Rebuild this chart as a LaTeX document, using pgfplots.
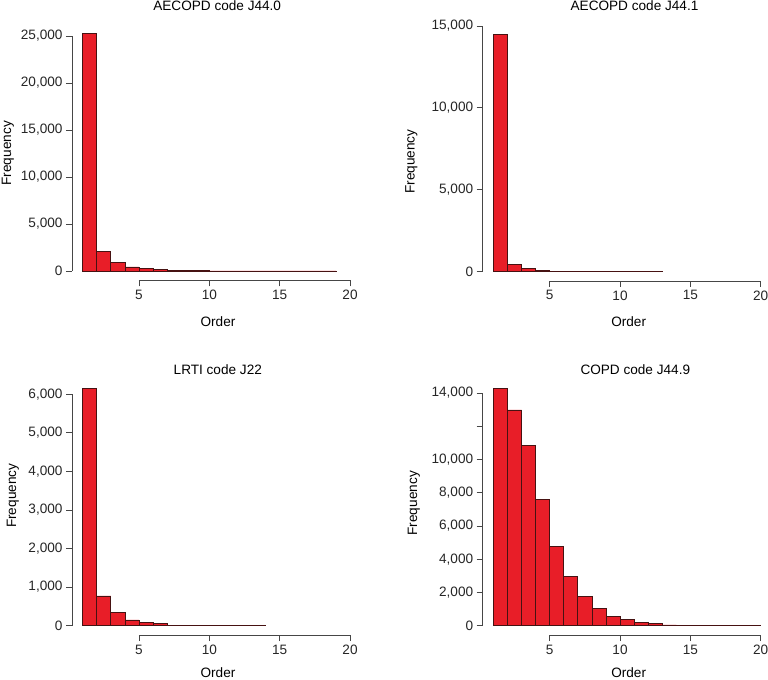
\documentclass[border=0pt]{standalone}
\usepackage{pgfplots}
\pgfplotsset{compat=1.18}
\usepackage{fontspec}
\setmainfont{Liberation Sans}
\definecolor{barred}{RGB}{232,30,40}
\definecolor{baredge}{RGB}{70,18,18}
\definecolor{axiscol}{RGB}{70,70,70}
\newcommand\pf{\fontsize{13.6bp}{16bp}\selectfont}
\pgfplotsset{
  rstyle/.style={
    anchor=south west, scale only axis, width=288.7bp, height=256.3bp,
    xmin=0.24, xmax=20.76, clip=false,
    axis x line*=bottom, axis y line*=left,
    axis line style={draw=none},
    tick align=outside, major tick length=6bp,
    tick style={draw=axiscol, line width=0.8bp},
    minor tick num=0,
    xtick={5,10,15,20},
    tick label style={font=\pf, text=black!85},
    /pgf/number format/assume math mode=true,
    /pgf/number format/1000 sep={,},
    scaled y ticks=false,
  },
  rbar/.style={ybar interval, fill=barred, draw=baredge, line width=0.7bp},
}
\begin{document}
\begin{tikzpicture}[x=1bp,y=1bp]
\useasboundingbox (0,0) rectangle (768,680);
% Panel 1: AECOPD code J44.0
\begin{axis}[rstyle, at={(72bp,399.5bp)}, ymin=-1010, ymax=26250,
  ytick={0,5000,10000,15000,20000,25000}]
\addplot[rbar] coordinates {(1,25240) (2,2100) (3,880) (4,425) (5,280) (6,140) (7,70)
 (8,35) (9,20) (10,12) (11,8) (12,5) (13,4) (14,3) (15,2) (16,1) (17,1) (18,1) (19,0)};
\draw[axiscol, line width=0.8bp] (axis cs:5,-1010) -- (axis cs:20,-1010);
\draw[axiscol, line width=0.8bp] (axis cs:0.24,0) -- (axis cs:0.24,25000);
\end{axis}
% Panel 2: AECOPD code J44.1
\begin{axis}[rstyle, at={(482.7bp,399bp)}, ymin=-580, ymax=15080,
  ytick={0,5000,10000,15000}]
\addplot[rbar] coordinates {(1,14500) (2,430) (3,165) (4,40) (5,20) (6,8) (7,5)
 (8,3) (9,2) (10,1) (11,1) (12,1) (13,0)};
\draw[axiscol, line width=0.8bp] (axis cs:5,-580) -- (axis cs:20,-580);
\draw[axiscol, line width=0.8bp] (axis cs:0.24,0) -- (axis cs:0.24,15000);
\end{axis}
% Panel 3: LRTI code J22
\begin{axis}[rstyle, at={(72bp,44.8bp)}, ymin=-246, ymax=6396,
  ytick={0,1000,2000,3000,4000,5000,6000}]
\addplot[rbar] coordinates {(1,6150) (2,770) (3,337) (4,148) (5,78) (6,52) (7,15)
 (8,10) (9,4) (10,2) (11,1) (12,1) (13,1) (14,0)};
\draw[axiscol, line width=0.8bp] (axis cs:5,-246) -- (axis cs:20,-246);
\draw[axiscol, line width=0.8bp] (axis cs:0.24,0) -- (axis cs:0.24,6000);
\end{axis}
% Panel 4: COPD code J44.9
\begin{axis}[rstyle, at={(482.7bp,44.8bp)}, ymin=-571, ymax=14851,
  ytick={0,2000,4000,6000,8000,10000,12000,14000},
  yticklabels={0,{2,000},{4,000},{6,000},{8,000},{10,000},{},{14,000}}]
\addplot[rbar] coordinates {(1,14280) (2,12980) (3,10860) (4,7580) (5,4780) (6,2940)
 (7,1740) (8,1040) (9,580) (10,400) (11,220) (12,140) (13,50) (14,20) (15,10)
 (16,5) (17,3) (18,2) (19,1) (20,0)};
\draw[axiscol, line width=0.8bp] (axis cs:5,-571) -- (axis cs:20,-571);
\draw[axiscol, line width=0.8bp] (axis cs:0.24,0) -- (axis cs:0.24,14000);
\end{axis}
% Titles and labels
\node[anchor=base, font=\pf, inner sep=0] at (217.2,669.5) {AECOPD code J44.0};
\node[anchor=base, font=\pf, inner sep=0] at (634.5,669.5) {AECOPD code J44.1};
\node[anchor=base, font=\pf, inner sep=0] at (217.8,305) {LRTI code J22};
\node[anchor=base, font=\pf, inner sep=0] at (635.3,305) {COPD code J44.9};
\node[anchor=base, font=\pf, inner sep=0] at (218,353.3) {Order};
\node[anchor=base, font=\pf, inner sep=0] at (628.7,353.3) {Order};
\node[anchor=base, font=\pf, inner sep=0] at (218,2) {Order};
\node[anchor=base, font=\pf, inner sep=0] at (628.7,2) {Order};
\node[anchor=base, rotate=90, font=\pf, inner sep=0] at (11,526.7) {Frequency};
\node[anchor=base, rotate=90, font=\pf, inner sep=0] at (414.5,518.3) {Frequency};
\node[anchor=base, rotate=90, font=\pf, inner sep=0] at (16,184.2) {Frequency};
\node[anchor=base, rotate=90, font=\pf, inner sep=0] at (417,176.7) {Frequency};
\end{tikzpicture}
\end{document}
